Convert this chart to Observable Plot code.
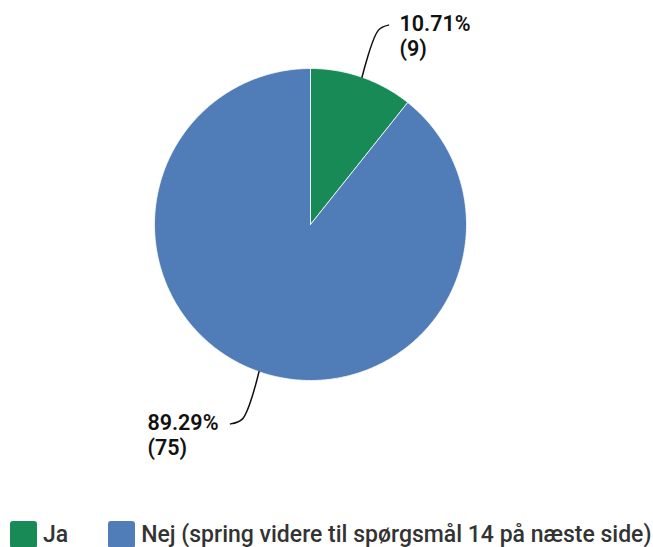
<!DOCTYPE html>
<html>
<head>
<meta charset="utf-8">
<script src="https://cdn.jsdelivr.net/npm/d3@7"></script>
<script src="https://cdn.jsdelivr.net/npm/@observablehq/plot@0.6"></script>
<style>
  html, body { margin: 0; padding: 0; background: #fff; }
  #wrap { position: relative; width: 653px; height: 547px; overflow: hidden; }
  #legend { position: absolute; left: 10px; top: 521px; display: flex; align-items: center;
            font-family: Roboto, "Noto Sans", sans-serif; font-weight: 500; font-size: 23px; color: #333; }
  .item { display: flex; align-items: center; }
  .item + .item { margin-left: 40px; }
  .sw { width: 27px; height: 27px; border-radius: 3px; margin-right: 6px; }
</style>
</head>
<body>
<div id="wrap"><div id="chart"></div><div id="legend"></div></div>
<script>
const categories = ["Ja", "Nej (spring videre til spørgsmål 14 på næste side)"];
const percents = [10.71, 89.29];
const counts = [9, 75];
const colors = ["#178a56", "#507db7"];

const W = 653, H = 510, R = 156, CX = 310, CY = 224;
const FONT = "600 21.5px Roboto";

const data = categories.map((c, i) => ({cat: c, pct: percents[i], n: counts[i], color: colors[i]}));
const pie = d3.pie().value(d => d.pct).sort(null)(data);

// slice polygons (angles clockwise from top)
const pts = [];
pie.forEach((a, i) => {
  pts.push({slice: i, x: 0, y: 0});
  const steps = Math.max(2, Math.ceil((a.endAngle - a.startAngle) / (Math.PI / 360)));
  for (let k = 0; k <= steps; k++) {
    const t = a.startAngle + (a.endAngle - a.startAngle) * k / steps;
    pts.push({slice: i, x: Math.sin(t), y: Math.cos(t)});
  }
  pts.push({slice: i, x: 0, y: 0});
});

const ctx = document.createElement("canvas").getContext("2d");
ctx.font = FONT;

// leader lines and labels
const leaders = [];
const labels = [];
pie.forEach((a, i) => {
  const m = (a.startAngle + a.endAngle) / 2;
  const s = Math.sin(m), c = Math.cos(m);
  const right = s >= 0;
  const p0 = {x: s, y: c};
  const p1 = {x: s * 1.32, y: c * 1.32};
  const p2 = {x: p1.x + (right ? 10 : -12) / R, y: p1.y + (right ? 5 : -5) / R};
  [p0, p1, p2].forEach(p => leaders.push({slice: i, ...p}));
  const lines = [`${a.data.pct.toFixed(2)}%`, `(${a.data.n})`];
  const w = Math.max(...lines.map(l => ctx.measureText(l).width));
  labels.push({x: right ? p2.x + 11 / R : p2.x - (12 + w) / R, y: p2.y, text: lines.join("\n")});
});

const chart = Plot.plot({
  width: W, height: H,
  margin: 0,
  x: {domain: [-CX / R, (W - CX) / R], axis: null},
  y: {domain: [-(H - CY) / R, CY / R], axis: null},
  style: {background: "transparent"},
  marks: [
    Plot.line(pts, {x: "x", y: "y", z: "slice", fill: d => colors[d.slice], stroke: "#fff", strokeWidth: 0.8, curve: "linear-closed"}),
    Plot.line(leaders, {x: "x", y: "y", z: "slice", stroke: "#111", strokeWidth: 1.5, curve: "catmull-rom"}),
    Plot.text(labels, {x: "x", y: "y", text: "text", textAnchor: "start", lineAnchor: "top", dy: -12,
      fontSize: 21.5, fontWeight: 600, fill: "#111", lineHeight: 1.16, fontFamily: "Roboto"})
  ]
});
document.getElementById("chart").appendChild(chart);

const leg = document.getElementById("legend");
data.forEach(d => {
  const it = document.createElement("div");
  it.className = "item";
  const sw = document.createElement("div");
  sw.className = "sw";
  sw.style.background = d.color;
  const t = document.createElement("span");
  t.textContent = d.cat;
  it.appendChild(sw); it.appendChild(t);
  leg.appendChild(it);
});
</script>
</body>
</html>
